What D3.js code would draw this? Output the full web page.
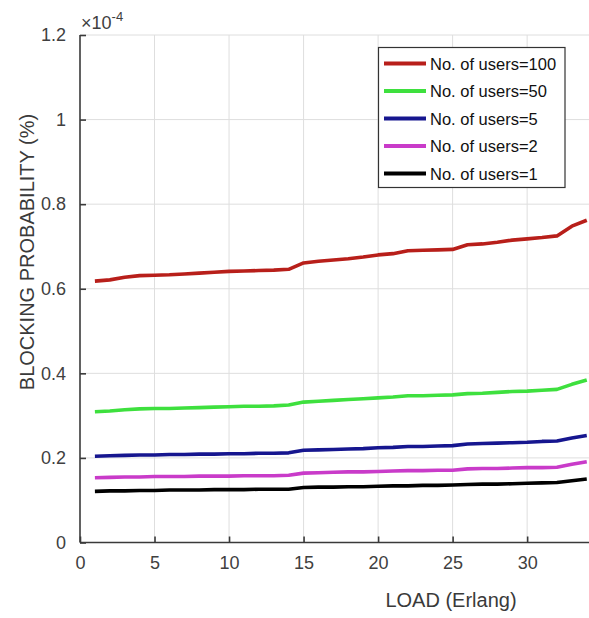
<!DOCTYPE html>
<html>
<head>
<meta charset="utf-8">
<script src="https://cdn.jsdelivr.net/npm/d3@7"></script>
<style>
  html, body { margin: 0; padding: 0; background: #fff; }
  svg { display: block; font-family: Arial, "Liberation Sans", sans-serif; }
</style>
</head>
<body>
<svg id="chart" width="589" height="618"></svg>
<script>
// Offered load in Erlang
const load = d3.range(1, 35);

// Blocking probability (x 1e-4) for each number of users
const users100 = [0.618,0.621,0.627,0.631,0.632,0.633,0.635,0.637,0.639,0.641,0.642,0.643,0.644,0.646,0.661,0.665,0.668,0.671,0.675,0.680,0.683,0.690,0.691,0.692,0.693,0.704,0.706,0.710,0.715,0.718,0.721,0.725,0.748,0.762];
const users50  = [0.309,0.311,0.314,0.316,0.317,0.317,0.318,0.319,0.320,0.321,0.322,0.322,0.323,0.325,0.332,0.334,0.336,0.338,0.340,0.342,0.344,0.347,0.347,0.348,0.349,0.352,0.353,0.355,0.357,0.358,0.360,0.362,0.374,0.384];
const users5   = [0.204,0.205,0.206,0.207,0.207,0.208,0.208,0.209,0.209,0.210,0.210,0.211,0.211,0.212,0.218,0.219,0.220,0.221,0.222,0.224,0.225,0.227,0.227,0.228,0.229,0.233,0.234,0.235,0.236,0.237,0.239,0.240,0.247,0.253];
const users2   = [0.153,0.154,0.155,0.155,0.156,0.156,0.156,0.157,0.157,0.157,0.158,0.158,0.158,0.159,0.164,0.165,0.166,0.167,0.167,0.168,0.169,0.170,0.170,0.171,0.171,0.174,0.175,0.175,0.176,0.177,0.177,0.178,0.185,0.191];
const users1   = [0.121,0.122,0.122,0.123,0.123,0.124,0.124,0.124,0.125,0.125,0.125,0.126,0.126,0.126,0.130,0.131,0.131,0.132,0.132,0.133,0.134,0.134,0.135,0.135,0.136,0.137,0.138,0.138,0.139,0.140,0.141,0.142,0.146,0.150];

const seriesNames = ["No. of users=100", "No. of users=50", "No. of users=5", "No. of users=2", "No. of users=1"];
const seriesValues = [users100, users50, users5, users2, users1];
const seriesColors = ["#b81f1a", "#3ee03e", "#16168f", "#c93bc9", "#000000"];

const xTicks = [0, 5, 10, 15, 20, 25, 30];
const yTicks = [0, 0.2, 0.4, 0.6, 0.8, 1, 1.2];

const svg = d3.select("#chart");
const plotL = 80, plotR = 589, plotT = 35, plotB = 542.5;

const x = d3.scaleLinear().domain([0, 34.15]).range([plotL, plotR]);
const y = d3.scaleLinear().domain([0, 1.2]).range([plotB, plotT]);

// grid
const grid = svg.append("g").attr("stroke", "#dedede").attr("stroke-width", 1);
grid.selectAll("line.gx").data(xTicks.filter(d => d > 0)).join("line").attr("class", "gx")
  .attr("x1", d => x(d)).attr("x2", d => x(d)).attr("y1", plotT).attr("y2", plotB);
grid.selectAll("line.gy").data(yTicks.filter(d => d > 0)).join("line").attr("class", "gy")
  .attr("y1", d => y(d)).attr("y2", d => y(d)).attr("x1", plotL).attr("x2", plotR);

// axes
const xAxis = d3.axisBottom(x).tickValues(xTicks).tickFormat(d3.format("d")).tickSizeInner(-6).tickSizeOuter(0).tickPadding(14);
const yAxis = d3.axisLeft(y).tickValues(yTicks).tickFormat(d => d === 0 ? "0" : d === 1 ? "1" : d3.format(".1f")(d)).tickSizeInner(-6).tickSizeOuter(0).tickPadding(14);

const gx = svg.append("g").attr("transform", `translate(0,${plotB})`).call(xAxis);
const gy = svg.append("g").attr("transform", `translate(${plotL},0)`).call(yAxis);
[gx, gy].forEach(g => {
  g.select(".domain").attr("stroke", "#3a3a3a").attr("stroke-width", 1.6);
  g.selectAll(".tick line").attr("stroke", "#3a3a3a").attr("stroke-width", 1.6);
  g.selectAll(".tick text").attr("fill", "#404040").attr("font-size", 18).attr("font-family", "Arial, 'Liberation Sans', sans-serif");
});
gy.select(".domain").attr("d", `M0,${plotB}V${plotT}`);
gx.select(".domain").attr("d", `M${plotL},0H${plotR}`);

// exponent label
const exp = svg.append("text").attr("x", 81).attr("y", 29).attr("fill", "#404040")
  .attr("font-size", 18);
exp.append("tspan").text("\u00d710");
exp.append("tspan").attr("dy", -8).attr("font-size", 13).text("-4");

// series
const line = d3.line().x((d, i) => x(load[i])).y(d => y(d));
svg.append("g").selectAll("path").data(seriesValues).join("path")
  .attr("d", d => line(d))
  .attr("fill", "none")
  .attr("stroke", (d, i) => seriesColors[i])
  .attr("stroke-width", 3.6)
  .attr("stroke-linejoin", "round");

// axis titles
svg.append("text").attr("x", 451).attr("y", 607).attr("text-anchor", "middle")
  .attr("fill", "#3a3a3a").attr("font-size", 20).text("LOAD (Erlang)");
svg.append("text").attr("transform", "translate(34,252) rotate(-90)").attr("text-anchor", "middle")
  .attr("fill", "#3a3a3a").attr("font-size", 20).text("BLOCKING PROBABILITY (%)");

// legend
const lg = svg.append("g");
lg.append("rect").attr("x", 378.5).attr("y", 47.5).attr("width", 186.5).attr("height", 140)
  .attr("fill", "#fff").attr("stroke", "#333").attr("stroke-width", 1.2);
const rows = lg.selectAll("g.row").data(seriesNames).join("g").attr("class", "row")
  .attr("transform", (d, i) => `translate(0,${63.5 + i * 27.5})`);
rows.append("line").attr("x1", 384).attr("x2", 426).attr("y1", 0).attr("y2", 0)
  .attr("stroke", (d, i) => seriesColors[i]).attr("stroke-width", 4);
rows.append("text").attr("x", 430).attr("y", 6).attr("font-size", 16.5).attr("fill", "#111")
  .text(d => d);
</script>
</body>
</html>
